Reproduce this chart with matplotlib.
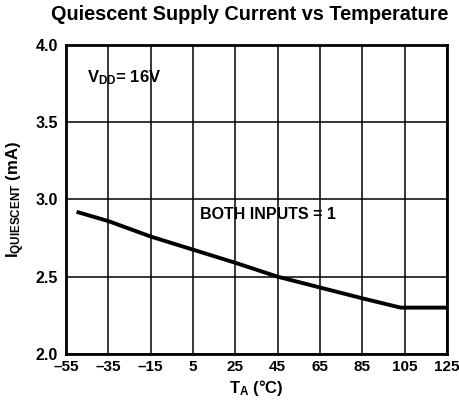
import matplotlib
matplotlib.use("Agg")
import matplotlib.pyplot as plt

temps = [-50, -35, -15, 5, 25, 45, 65, 85, 103, 125]
current = [2.92, 2.86, 2.76, 2.675, 2.59, 2.50, 2.43, 2.36, 2.30, 2.30]
xticks = [-55, -35, -15, 5, 25, 45, 65, 85, 105, 125]
yticks = [2.0, 2.5, 3.0, 3.5, 4.0]

plt.rcParams['font.family'] = ['Liberation Sans', 'DejaVu Sans']
plt.rcParams['font.weight'] = 'bold'
plt.rcParams['mathtext.fontset'] = 'custom'
plt.rcParams['mathtext.rm'] = 'Liberation Sans:bold'
plt.rcParams['mathtext.it'] = 'Liberation Sans:bold'
plt.rcParams['mathtext.bf'] = 'Liberation Sans:bold'

fig = plt.figure(figsize=(4.6, 4.05), dpi=100)
ax = fig.add_axes([0.1435, 0.126, 0.8285, 0.763])
ax.plot(temps, current, color='black', lw=2.8, solid_capstyle='butt')
ax.set_xlim(-55, 125)
ax.set_ylim(2.0, 4.0)
ax.set_xticks(xticks)
ax.set_xticklabels([str(t).replace('-', '\u2013') for t in xticks])
ax.set_yticks(yticks)
ax.set_yticklabels([f"{v:.1f}" for v in yticks])
ax.tick_params(length=0, labelsize=11, pad=4)
ax.tick_params(axis='y', labelsize=11.5, pad=6)
for lab in ax.get_xticklabels() + ax.get_yticklabels():
    lab.set_fontweight('bold')
ax.grid(True, color='black', lw=1.1)
for s in ax.spines.values():
    s.set_linewidth(2)
fig.text(0.543, 0.963, 'Quiescent Supply Current vs Temperature', fontsize=14.3,
         fontweight='bold', ha='center', va='center')
ax.set_xlabel(r'T$_{\mathrm{A}}$ (°C)', fontsize=12, fontweight='bold', labelpad=3)
ax.set_ylabel(r'I$_{\mathrm{QUIESCENT}}$ (mA)', fontsize=12, fontweight='bold', labelpad=6)
ax.text(-45, 3.79, r'V$_{\mathrm{DD}}$= 16V', fontsize=12, fontweight='bold', va='center')
ax.text(8.5, 2.905, 'BOTH INPUTS = 1', fontsize=11.5, fontweight='bold', va='center')
fig.savefig('out.png', dpi=100)
